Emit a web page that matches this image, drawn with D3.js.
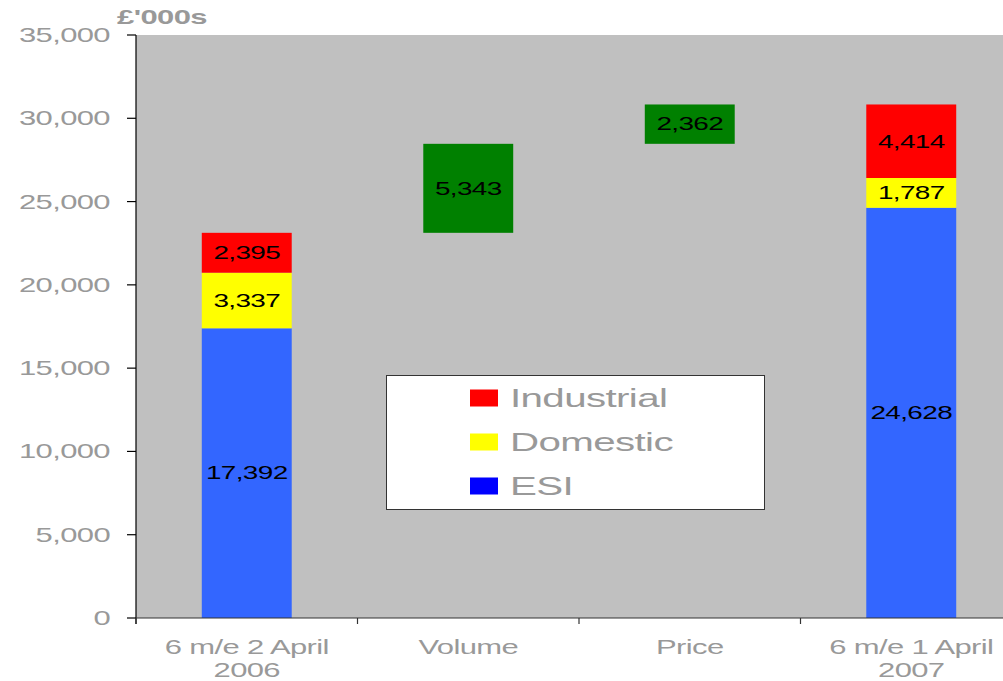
<!DOCTYPE html>
<html>
<head>
<meta charset="utf-8">
<script src="https://cdn.jsdelivr.net/npm/d3@7"></script>
<style>
  html, body { margin: 0; padding: 0; background: #fff; }
  svg { display: block; }
  text { font-family: "Liberation Sans", Arial, Helvetica, sans-serif; }
</style>
</head>
<body>
<svg id="chart" width="1003" height="681"></svg>
<script>
// ---- data ----
const categories = ["6 m/e 2 April\n2006", "Volume", "Price", "6 m/e 1 April\n2007"];
const esi        = [17392, null, null, 24628];
const domestic   = [3337,  null, null, 1787];
const industrial = [2395,  null, null, 4414];
const bridge     = [null,  5343, 2362, null];   // floating green steps
const yTicks     = [0, 5000, 10000, 15000, 20000, 25000, 30000, 35000];
const legendItems = ["Industrial", "Domestic", "ESI"];
const unitLabel = "£'000s";

// ---- layout ----
const svg = d3.select("#chart");
const SX = 1.55; // horizontal text stretch seen in the reference
const plot = { left: 136, right: 1022, top: 35, bottom: 618 };

const x = d3.scaleBand().domain(categories).range([plot.left, plot.right]).paddingInner(0).paddingOuter(0);
const y = d3.scaleLinear().domain([0, 35000]).range([plot.bottom, plot.top]);
const barW = x.bandwidth() * 0.406;

const colors = { ESI: "#3366FF", Domestic: "#FFFF00", Industrial: "#FF0000", bridge: "#008000" };
const legendColors = { Industrial: "#FF0000", Domestic: "#FFFF00", ESI: "#0000FF" };

function stext(parent, tx, ty, str, o = {}) {
  const g = parent.append("g").attr("transform", `translate(${tx},${ty}) scale(${SX},1)`);
  const t = g.append("text")
    .attr("text-anchor", o.anchor || "middle")
    .attr("dy", o.dy || "0.35em")
    .attr("font-size", o.size || 18)
    .attr("font-weight", o.weight || "normal")
    .attr("letter-spacing", o.ls || -0.4)
    .attr("fill", o.fill || "#000")
    .text(str);
  return t;
}

// plot background
svg.append("rect")
  .attr("x", plot.left).attr("y", plot.top)
  .attr("width", plot.right - plot.left).attr("height", plot.bottom - plot.top)
  .attr("fill", "#C0C0C0");

// build segments
const fmt = d3.format(",");
const segs = [];
let running = 0;
categories.forEach((c, i) => {
  if (esi[i] != null) {
    let base = 0;
    [["ESI", esi[i]], ["Domestic", domestic[i]], ["Industrial", industrial[i]]].forEach(([k, v]) => {
      segs.push({ cat: c, y0: base, y1: base + v, v, color: colors[k] });
      base += v;
    });
    running = base;
  } else {
    segs.push({ cat: c, y0: running, y1: running + bridge[i], v: bridge[i], color: colors.bridge });
    running += bridge[i];
  }
});

const gBars = svg.append("g");
gBars.selectAll("rect").data(segs).join("rect")
  .attr("x", d => x(d.cat) + (x.bandwidth() - barW) / 2)
  .attr("width", barW)
  .attr("y", d => y(d.y1))
  .attr("height", d => y(d.y0) - y(d.y1))
  .attr("fill", d => d.color);

segs.forEach(d => {
  stext(gBars, x(d.cat) + x.bandwidth() / 2, (y(d.y0) + y(d.y1)) / 2, fmt(d.v), { size: 18, fill: "#000" });
});

// y axis
const gy = svg.append("g");
gy.append("line").attr("x1", plot.left).attr("x2", plot.left).attr("y1", plot.top).attr("y2", plot.bottom + 6)
  .attr("stroke", "#000").attr("stroke-width", 1.2);
yTicks.forEach(t => {
  gy.append("line").attr("x1", plot.left - 9).attr("x2", plot.left).attr("y1", y(t)).attr("y2", y(t))
    .attr("stroke", "#000").attr("stroke-width", 1.2);
  stext(gy, plot.left - 26, y(t), fmt(t), { anchor: "end", size: 20, fill: "#999999" });
});

// x axis
const gx = svg.append("g");
gx.append("line").attr("x1", plot.left).attr("x2", plot.right).attr("y1", plot.bottom).attr("y2", plot.bottom)
  .attr("stroke", "#333").attr("stroke-width", 1.2);
categories.forEach((c, i) => {
  const xl = x(c);
  gx.append("line").attr("x1", xl).attr("x2", xl).attr("y1", plot.bottom).attr("y2", plot.bottom + 6)
    .attr("stroke", "#333").attr("stroke-width", 1.2);
  const lines = c.split("\n");
  lines.forEach((ln, j) => {
    stext(gx, xl + x.bandwidth() / 2, 647 + j * 23, ln, { size: 20, fill: "#999999" });
  });
});

// unit label
stext(svg, 162, 17, unitLabel, { size: 20, weight: "bold", fill: "#999999" });

// legend
const lg = svg.append("g");
lg.append("rect").attr("x", 386.5).attr("y", 375.5).attr("width", 378).attr("height", 134)
  .attr("fill", "#fff").attr("stroke", "#333").attr("stroke-width", 1);
legendItems.forEach((k, i) => {
  const cy = 398 + i * 44;
  lg.append("rect").attr("x", 470).attr("y", cy - 8.5).attr("width", 28).attr("height", 17).attr("fill", legendColors[k]);
  stext(lg, 510, cy, k, { anchor: "start", size: 26, fill: "#999999" });
});
</script>
</body>
</html>
